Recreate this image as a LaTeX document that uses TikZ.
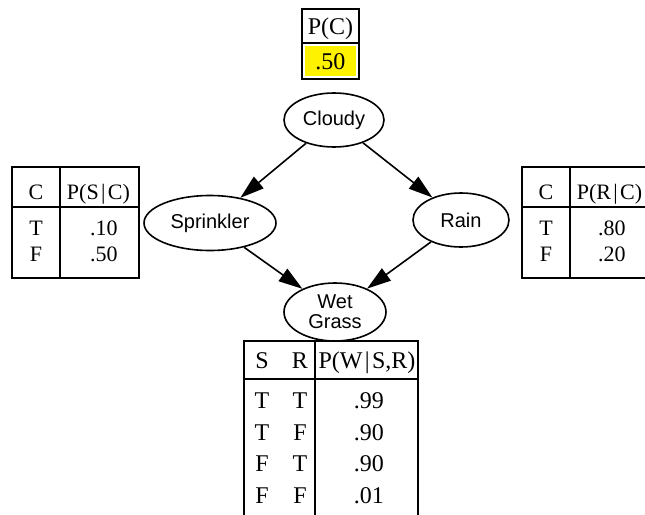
\documentclass[tikz,border=0pt]{standalone}
\usepackage{fontspec}
\setmainfont{Liberation Serif}
\setsansfont{Liberation Sans}
\usetikzlibrary{shapes.geometric,arrows.meta}
\newcommand{\given}{\kern1.2pt|\kern1.2pt}
\begin{document}
\begin{tikzpicture}[x=0.5pt,y=-0.5pt]
    \clip (0,0) rectangle (645,515);
    % tables
    \begin{scope}[line width=1pt]
    \fill[yellow] (305,46) rectangle (356,76);
    \draw (302,9) rectangle (359,79) (302,43) -- (359,43);
    \draw (12,167) rectangle (139,278) (12,207) -- (139,207) (60,167) -- (60,278);
    \draw (522,167) rectangle (649,278) (522,207) -- (649,207) (570,167) -- (570,278);
    \draw (244,520) -- (244,341) -- (418,341) -- (418,520)
          (244,379) -- (418,379) (315,341) -- (315,520);
    \end{scope}
    \begin{scope}[every node/.style={font=\fontsize{12}{14}\selectfont,inner sep=0pt,text height=8pt,text depth=0pt}]
    \node (pc) at (330.5,26) {P(C)};
    \node (pc50) at (330.5,61) {.50};
    \node (ws) at (262,360) {S};
    \node (wr) at (300,360) {R};
    \node (wp) at (367,360) {P(W\given S,R)};
    \node (ws1) at (262,400) {T};
    \node (wr1) at (300,400) {T};
    \node (wp1) at (369,400) {.99};
    \node (ws2) at (262,432) {T};
    \node (wr2) at (300,432) {F};
    \node (wp2) at (369,432) {.90};
    \node (ws3) at (262,463) {F};
    \node (wr3) at (300,463) {T};
    \node (wp3) at (369,463) {.90};
    \node (ws4) at (262,495) {F};
    \node (wr4) at (300,495) {F};
    \node (wp4) at (369,495) {.01};
    \end{scope}
    \begin{scope}[every node/.style={font=\fontsize{11}{13}\selectfont,inner sep=0pt,text height=7.3pt,text depth=0pt}]
    \node (sc) at (36,192) {C};
    \node (sp) at (98.5,192) {P(S\given C)};
    \node (sc1) at (36,228) {T};
    \node (sp1) at (104,228) {.10};
    \node (sc2) at (36,254) {F};
    \node (sp2) at (104,254) {.50};
    \node (rc) at (546,192) {C};
    \node (rp) at (609.5,192) {P(R\given C)};
    \node (rc1) at (546,228) {T};
    \node (rp1) at (612,228) {.80};
    \node (rc2) at (546,254) {F};
    \node (rp2) at (612,254) {.20};
    \end{scope}
    % network
    \begin{scope}[every node/.style={ellipse,draw,line width=0.8pt,inner sep=0pt,align=center,font=\sffamily\fontsize{10}{10}\selectfont}]
    \node[minimum width=50pt,minimum height=27pt] (cloudy) at (334,120) {Cloudy};
    \node[minimum width=66pt,minimum height=27.5pt] (sprinkler) at (210,223) {Sprinkler};
    \node[minimum width=48pt,minimum height=27pt] (rain) at (461,220) {Rain};
    \node[minimum width=51pt,minimum height=29pt] (wet) at (335,312) {Wet\\Grass};
    \end{scope}
    \begin{scope}[every edge/.style={draw=black,line width=0.8pt,-{Triangle[length=12pt,width=7.5pt]}}]
    \path (cloudy) edge (sprinkler)
          (cloudy) edge (rain)
          (sprinkler) edge (wet)
          (rain) edge (wet);
    \end{scope}
\end{tikzpicture}
\end{document}
